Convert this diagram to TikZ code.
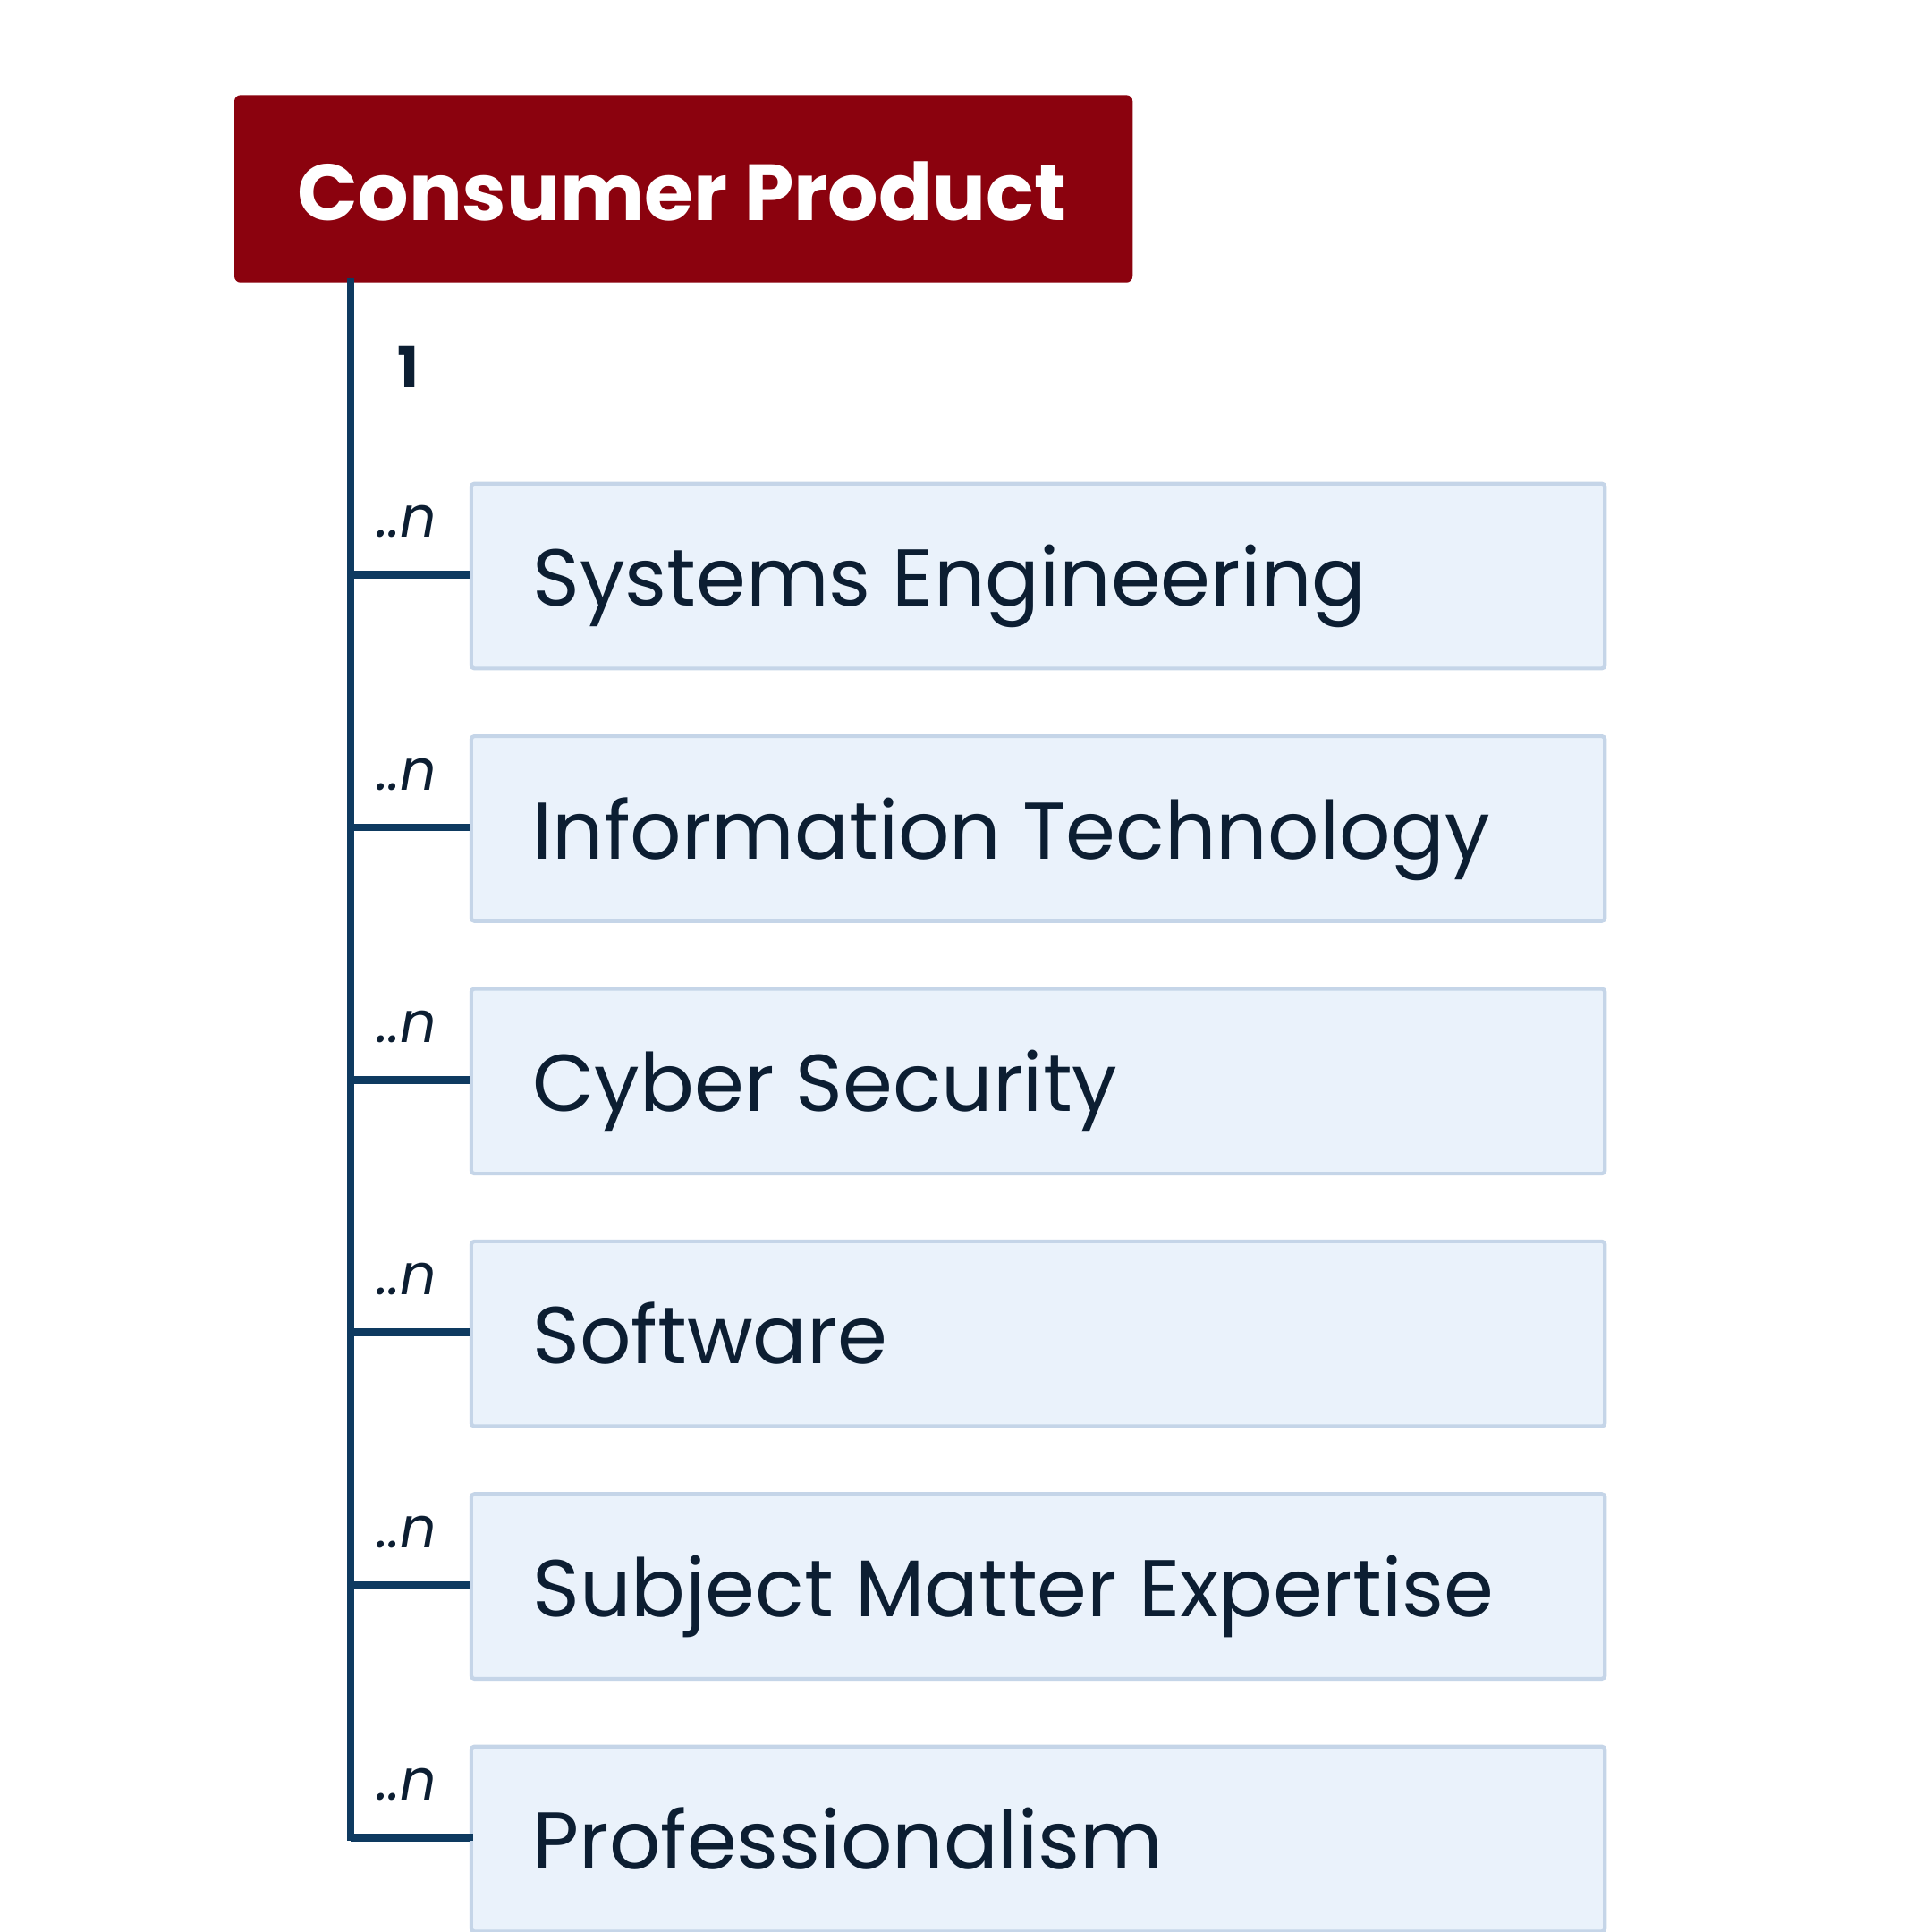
\documentclass[tikz,border=0pt]{standalone}
\usepackage{fontspec}
\setmainfont{Poppins}
\definecolor{hdr}{RGB}{139,2,14}
\definecolor{boxfill}{RGB}{234,242,251}
\definecolor{boxline}{RGB}{197,213,232}
\definecolor{conn}{RGB}{14,58,96}
\definecolor{txt}{RGB}{12,30,50}
\begin{document}
\begin{tikzpicture}[x=1pt,y=-1pt,
  header/.style={draw=none,fill=hdr,rounded corners=5pt,minimum width=729pt,minimum height=152pt,anchor=north west,inner sep=0pt},
  child/.style={draw=boxline,line width=3pt,fill=boxfill,rounded corners=2.5pt,minimum width=920pt,minimum height=150pt,anchor=north west,inner sep=0pt},
  childtext/.style={text=txt,inner sep=0pt,font=\fontsize{65.3}{70}\selectfont},
  connline/.style={draw=conn,line width=6.4pt},
  mult/.style={text=txt,inner sep=0pt,font=\fontsize{46}{50}\selectfont\itshape},
  one/.style={text=txt,inner sep=0pt,font=\fontsize{46}{50}\selectfont\bfseries}]
\useasboundingbox (0,0) rectangle (1568,1568);
\fill[white] (0,0) rectangle (1568,1568);
\node[header] (cp) at (190,77) {};
\node[anchor=base,text=white,inner sep=0pt,font=\fontsize{64.5}{70}\selectfont\bfseries] (cpt) at (553.5,179) {Consumer Product};
\node[one,anchor=base] (one) at (331,315) {1};
\coordinate (top) at (284.5,229);
\coordinate (bot) at (284.5,1491);
\foreach \i/\t in {0/Systems Engineering,1/Information Technology,2/Cyber Security,3/Software,4/Subject Matter Expertise,5/Professionalism}{
  \node[child] (c\i) at (381,391+205*\i) {};
  \node[childtext,anchor=base west] (t\i) at (432,492+205*\i) {\t};
  \coordinate (j\i) at (284.5,466.5+205*\i);
  \draw[connline] (j\i) -- (j\i -| c\i.west);
  \node[mult,anchor=base] (m\i) at (330,436+205*\i) {..n};
}
\draw[connline,line cap=rect] (top) -- (bot) -- (bot -| c5.west);
\end{tikzpicture}
\end{document}
